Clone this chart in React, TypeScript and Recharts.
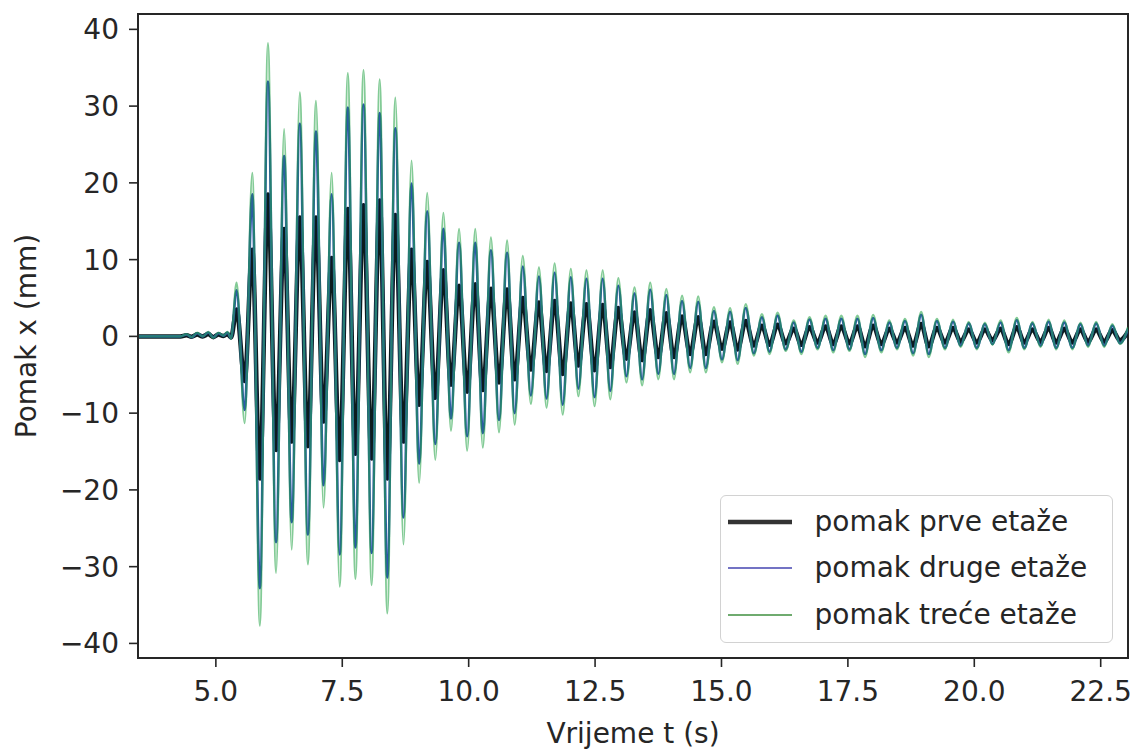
import React from 'react';
import { LineChart, Line, XAxis, YAxis, Legend, Label, ReferenceArea } from 'recharts';

const FONT = '"DejaVu Sans", Verdana, sans-serif';
const TEXT = '#262626';

// x-axis ticks and y-axis ticks
const xTicks = [5, 7.5, 10, 12.5, 15, 17.5, 20, 22.5];
const yTicks = [-40, -30, -20, -10, 0, 10, 20, 30, 40];
const xDomain = [3.46, 23.04];
const yDomain = [-41.9, 42.0];

// quiet lead-in before the excitation (time in s, displacement in mm)
const leadTimes = [3.46, 4.3, 4.42, 4.52, 4.63, 4.74, 4.85, 4.95, 5.05, 5.15, 5.23, 5.3, 5.41, 5.57];
const leadPrve = [0, 0, 0.15, -0.05, 0.25, 0, 0.3, -0.1, 0.25, 0.05, 0.3, -0.15, 3.5, -5.8];
const leadDruge = [0, 0, 0.25, -0.1, 0.4, 0, 0.5, -0.15, 0.4, 0.1, 0.5, -0.25, 6.0, -9.6];
const leadTrece = [0, 0, 0.3, -0.1, 0.5, 0, 0.6, -0.2, 0.5, 0.1, 0.6, -0.3, 7.0, -11.3];

// times of the positive peaks and the following troughs
const peakTimes = [5.72, 6.03, 6.35, 6.66, 6.98, 7.29, 7.61, 7.92, 8.24, 8.55, 8.87, 9.18, 9.5, 9.81, 10.13, 10.44, 10.76, 11.07, 11.39, 11.7, 12.02, 12.33, 12.65, 12.96, 13.28, 13.59, 13.91, 14.22, 14.54, 14.85, 15.17, 15.48, 15.8, 16.11, 16.43, 16.74, 17.06, 17.37, 17.69, 18.0, 18.32, 18.63, 18.95, 19.26, 19.58, 19.89, 20.21, 20.52, 20.84, 21.15, 21.47, 21.78, 22.1, 22.41, 22.73];
const troughTimes = [5.87, 6.19, 6.5, 6.82, 7.13, 7.45, 7.76, 8.08, 8.39, 8.71, 9.02, 9.34, 9.65, 9.97, 10.28, 10.6, 10.91, 11.23, 11.54, 11.86, 12.17, 12.49, 12.8, 13.12, 13.43, 13.75, 14.06, 14.38, 14.69, 15.01, 15.32, 15.64, 15.95, 16.27, 16.58, 16.9, 17.21, 17.53, 17.84, 18.16, 18.47, 18.79, 19.1, 19.42, 19.73, 20.05, 20.36, 20.68, 20.99, 21.31, 21.62, 21.94, 22.25, 22.57, 22.88];

// pomak prve etaže (first floor)
const prveTops = [11.3, 18.5, 14.0, 15.5, 15.5, 10.2, 16.6, 17.1, 17.7, 15.8, 11.3, 9.7, 8.6, 6.6, 6.8, 6.2, 6.1, 5.0, 4.4, 4.6, 4.3, 4.2, 4.1, 3.7, 3.1, 3.4, 3.0, 2.6, 2.5, 1.9, 1.8, 2.0, 1.4, 1.5, 1.0, 1.2, 1.3, 1.3, 1.3, 1.4, 1.0, 1.1, 1.6, 1.1, 1.1, 0.9, 0.9, 1.0, 1.2, 0.9, 1.1, 1.0, 0.9, 0.9, 0.8];
const prveTroughs = [-18.5, -14.8, -13.7, -14.3, -11.1, -16.1, -15.3, -15.9, -18.5, -13.7, -8.9, -8.0, -6.3, -7.2, -7.0, -6.0, -5.6, -4.3, -4.5, -4.9, -3.8, -4.4, -4.0, -2.9, -3.1, -2.7, -2.7, -2.3, -2.3, -1.6, -1.7, -1.2, -1.1, -0.9, -1.1, -0.8, -1.0, -0.9, -1.3, -1.0, -0.8, -1.2, -1.3, -0.8, -0.7, -0.8, -0.5, -1.0, -0.8, -0.7, -0.8, -0.8, -0.7, -0.7, -0.5];

// pomak druge etaže (second floor)
const drugeTops = [18.5, 33.2, 23.5, 27.7, 26.7, 18.5, 29.8, 30.2, 29.1, 27.1, 19.9, 16.3, 14.0, 12.2, 12.2, 11.2, 10.9, 9.1, 7.8, 8.3, 7.7, 7.5, 7.5, 6.6, 5.6, 6.1, 5.4, 4.6, 4.5, 3.3, 3.2, 3.7, 2.5, 2.7, 1.8, 2.2, 2.3, 2.3, 2.3, 2.4, 1.8, 2.0, 2.8, 2.0, 1.9, 1.7, 1.6, 1.8, 2.1, 1.7, 1.9, 1.8, 1.6, 1.7, 1.4];
const drugeTroughs = [-32.8, -26.8, -24.2, -25.8, -19.4, -28.4, -27.5, -28.2, -31.4, -23.6, -16.6, -14.0, -10.7, -13.0, -12.6, -10.9, -10.0, -7.7, -8.1, -8.9, -6.8, -7.9, -7.1, -5.2, -5.6, -4.9, -4.9, -4.1, -4.1, -3.0, -3.1, -2.2, -2.0, -1.7, -2.0, -1.5, -1.8, -1.7, -2.3, -1.8, -1.5, -2.2, -2.3, -1.5, -1.2, -1.5, -1.0, -1.8, -1.5, -1.2, -1.5, -1.5, -1.2, -1.2, -0.9];

// pomak treće etaže (third floor)
const treceTops = [21.3, 38.2, 27.0, 31.8, 30.7, 21.3, 34.3, 34.7, 33.5, 31.1, 22.9, 18.7, 16.1, 14.0, 14.0, 12.9, 12.5, 10.5, 9.0, 9.5, 8.8, 8.6, 8.6, 7.6, 6.4, 7.0, 6.2, 5.3, 5.2, 3.8, 3.7, 4.2, 2.9, 3.1, 2.1, 2.5, 2.7, 2.7, 2.7, 2.8, 2.1, 2.3, 3.2, 2.3, 2.2, 1.9, 1.8, 2.1, 2.4, 1.9, 2.2, 2.1, 1.8, 1.9, 1.6];
const treceTroughs = [-37.7, -30.8, -27.8, -29.7, -22.3, -32.6, -31.6, -32.4, -36.1, -27.1, -19.1, -16.1, -12.3, -14.9, -14.5, -12.5, -11.5, -8.8, -9.3, -10.2, -7.8, -9.1, -8.2, -6.0, -6.4, -5.6, -5.6, -4.7, -4.7, -3.4, -3.6, -2.5, -2.3, -1.9, -2.3, -1.7, -2.1, -1.9, -2.7, -2.1, -1.7, -2.5, -2.7, -1.7, -1.4, -1.7, -1.1, -2.1, -1.7, -1.4, -1.7, -1.7, -1.4, -1.4, -1.0];

// last sample at the right edge
const endTime = 23.04;
const endPrve = 0.6;
const endDruge = 1.0;
const endTrece = 1.2;

type Row = { t: number; prve: number; druge: number; trece: number };
const data: Row[] = [];
leadTimes.forEach((t, i) => data.push({ t, prve: leadPrve[i], druge: leadDruge[i], trece: leadTrece[i] }));
peakTimes.forEach((t, i) => {
  data.push({ t, prve: prveTops[i], druge: drugeTops[i], trece: treceTops[i] });
  data.push({ t: troughTimes[i], prve: prveTroughs[i], druge: drugeTroughs[i], trece: treceTroughs[i] });
});
data.push({ t: endTime, prve: endPrve, druge: endDruge, trece: endTrece });

const SERIES = [
  { key: 'prve', name: 'pomak prve etaže', color: '#0b1c1e', width: 4.5, opacity: 1, legendColor: '#333333', legendWidth: 4.5 },
  { key: 'druge', name: 'pomak druge etaže', color: '#2f55b0', width: 2.6, opacity: 1, legendColor: '#4444b0', legendWidth: 1.6 },
  { key: 'trece', name: 'pomak treće etaže', color: '#1ea040', width: 2.2, opacity: 0.55, legendColor: '#3f8f3f', legendWidth: 1.6 },
];

const fmtY = (v: number) => (v < 0 ? '\u2212' + Math.abs(v) : String(v));
const fmtX = (v: number) => v.toFixed(1);

const LegendBox = () => (
  <div
    style={{
      width: 393,
      height: 148,
      boxSizing: 'border-box',
      border: '1.5px solid #d2d2d2',
      borderRadius: 6,
      background: 'rgba(255,255,255,0.85)',
      position: 'relative',
      fontFamily: FONT,
      fontSize: 28,
      color: TEXT,
    }}
  >
    {SERIES.map((s, i) => (
      <div
        key={s.key}
        style={{
          position: 'absolute',
          left: -1.5,
          top: 27 + i * 46.5 - 23 - 1.5,
          height: 46,
          width: 400,
          display: 'flex',
          alignItems: 'center',
        }}
      >
        <svg width={95} height={46} style={{ flex: 'none' }}>
          <line x1={8} x2={72} y1={23} y2={23} stroke={s.legendColor} strokeWidth={s.legendWidth} />
        </svg>
        <span style={{ lineHeight: '46px', whiteSpace: 'nowrap' }}>{s.name}</span>
      </div>
    ))}
  </div>
);

const YLabel = (props: any) => {
  const vb = props.viewBox || { x: 0, y: 14, width: 138, height: 644 };
  const x = vb.x + 36;
  const y = vb.y + vb.height / 2;
  return (
    <text
      x={x}
      y={y}
      transform={`rotate(-90, ${x}, ${y})`}
      textAnchor="middle"
      fill={TEXT}
      fontSize={28}
      fontFamily={FONT}
    >
      Pomak x (mm)
    </text>
  );
};

export default function App() {
  const tickStyle = { fill: TEXT, fontSize: 28, fontFamily: FONT };
  return (
    <div style={{ position: 'absolute', left: 0, top: 0, width: 1136, height: 751, background: '#ffffff' }}>
      <LineChart width={1136} height={751} data={data} margin={{ top: 14, right: 8, bottom: 0, left: 0 }}>
        <XAxis
          dataKey="t"
          type="number"
          domain={xDomain}
          allowDataOverflow
          ticks={xTicks}
          tickFormatter={fmtX}
          height={93}
          tick={tickStyle}
          tickSize={9}
          tickMargin={14}
          axisLine={{ stroke: TEXT, strokeWidth: 2 }}
          tickLine={{ stroke: TEXT, strokeWidth: 1.6 }}
        >
          <Label value="Vrijeme t (s)" position="insideBottom" offset={8} fill={TEXT} fontSize={28} fontFamily={FONT} />
        </XAxis>
        <YAxis
          type="number"
          domain={yDomain}
          allowDataOverflow
          ticks={yTicks}
          tickFormatter={fmtY}
          width={138}
          tick={tickStyle}
          tickSize={9}
          tickMargin={10}
          axisLine={{ stroke: TEXT, strokeWidth: 2 }}
          tickLine={{ stroke: TEXT, strokeWidth: 1.6 }}
        >
          <Label content={YLabel} />
        </YAxis>
        {SERIES.map((s) => (
          <Line
            key={s.key}
            type="monotone"
            dataKey={s.key}
            name={s.name}
            stroke={s.color}
            strokeWidth={s.width}
            strokeOpacity={s.opacity}
            strokeLinejoin="round"
            dot={false}
            activeDot={false}
            isAnimationActive={false}
          />
        ))}
        <ReferenceArea
          x1={xDomain[0]}
          x2={xDomain[1]}
          y1={yDomain[0]}
          y2={yDomain[1]}
          fill="none"
          fillOpacity={0}
          stroke={TEXT}
          strokeWidth={2}
          ifOverflow="visible"
        />
        <Legend
          layout="vertical"
          align="center"
          verticalAlign="middle"
          content={() => <LegendBox />}
          wrapperStyle={{ left: 720, top: 495, width: 393, height: 148 }}
        />
      </LineChart>
    </div>
  );
}
